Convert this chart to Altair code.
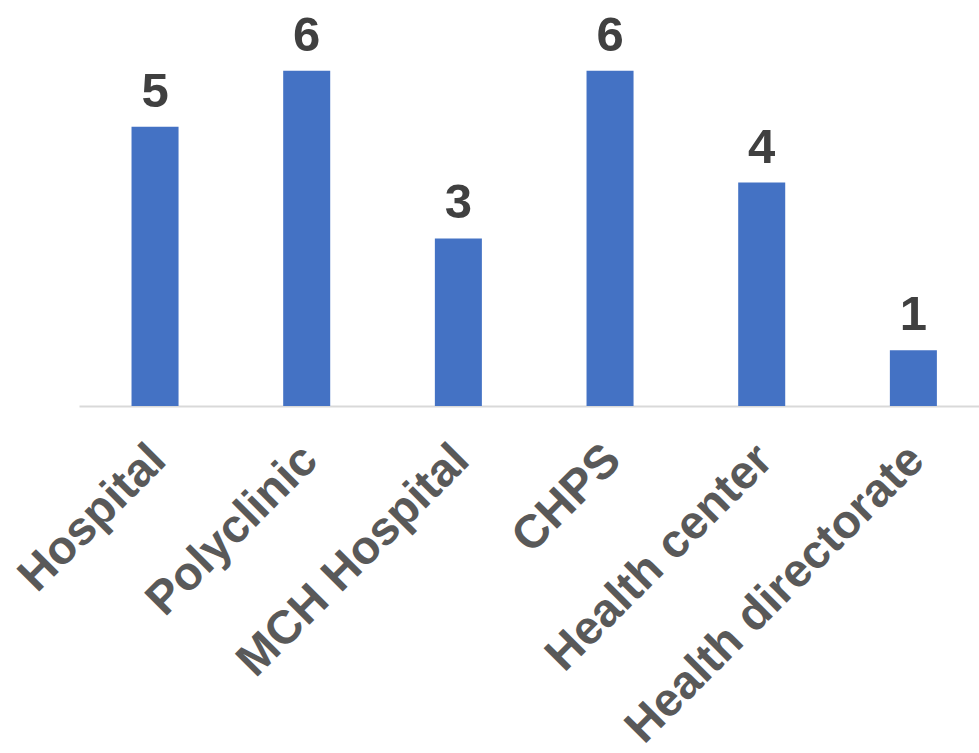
import altair as alt
import pandas as pd

categories = ["Hospital", "Polyclinic", "MCH Hospital", "CHPS", "Health center", "Health directorate"]
values = [5, 6, 3, 6, 4, 1]

df = pd.DataFrame({"cat": categories, "val": values})

x = alt.X("cat:N", sort=categories, title=None,
          scale=alt.Scale(paddingInner=0.69, paddingOuter=0.312, align=0.555),
          axis=alt.Axis(labelAngle=-45, labelFont="Liberation Sans", labelFontWeight="bold",
                        labelFontSize=47, labelColor="#595959", ticks=False, labelLimit=0,
                        domainColor="#D9D9D9", domainWidth=2, labelPadding=30, labelOffset=-13))
y = alt.Y("val:Q", title=None, scale=alt.Scale(domain=[0, 7], nice=False), axis=None)

bars = alt.Chart(df).mark_bar(color="#4472C4").encode(x=x, y=y)
text = alt.Chart(df).mark_text(font="Liberation Sans", fontWeight="bold", fontSize=49,
                               color="#404040", baseline="alphabetic", dy=-20).encode(
    x=alt.X("cat:N", sort=categories), y="val:Q", text="val:Q")

chart = (bars + text).properties(
    width=900, height=391,
    autosize=alt.AutoSizeParams(type="none"),
    padding={"left": 79, "top": 15, "right": 0, "bottom": 347},
).configure_view(stroke=None)

chart.save("out.html", embed_options={"renderer": "svg", "actions": False})
